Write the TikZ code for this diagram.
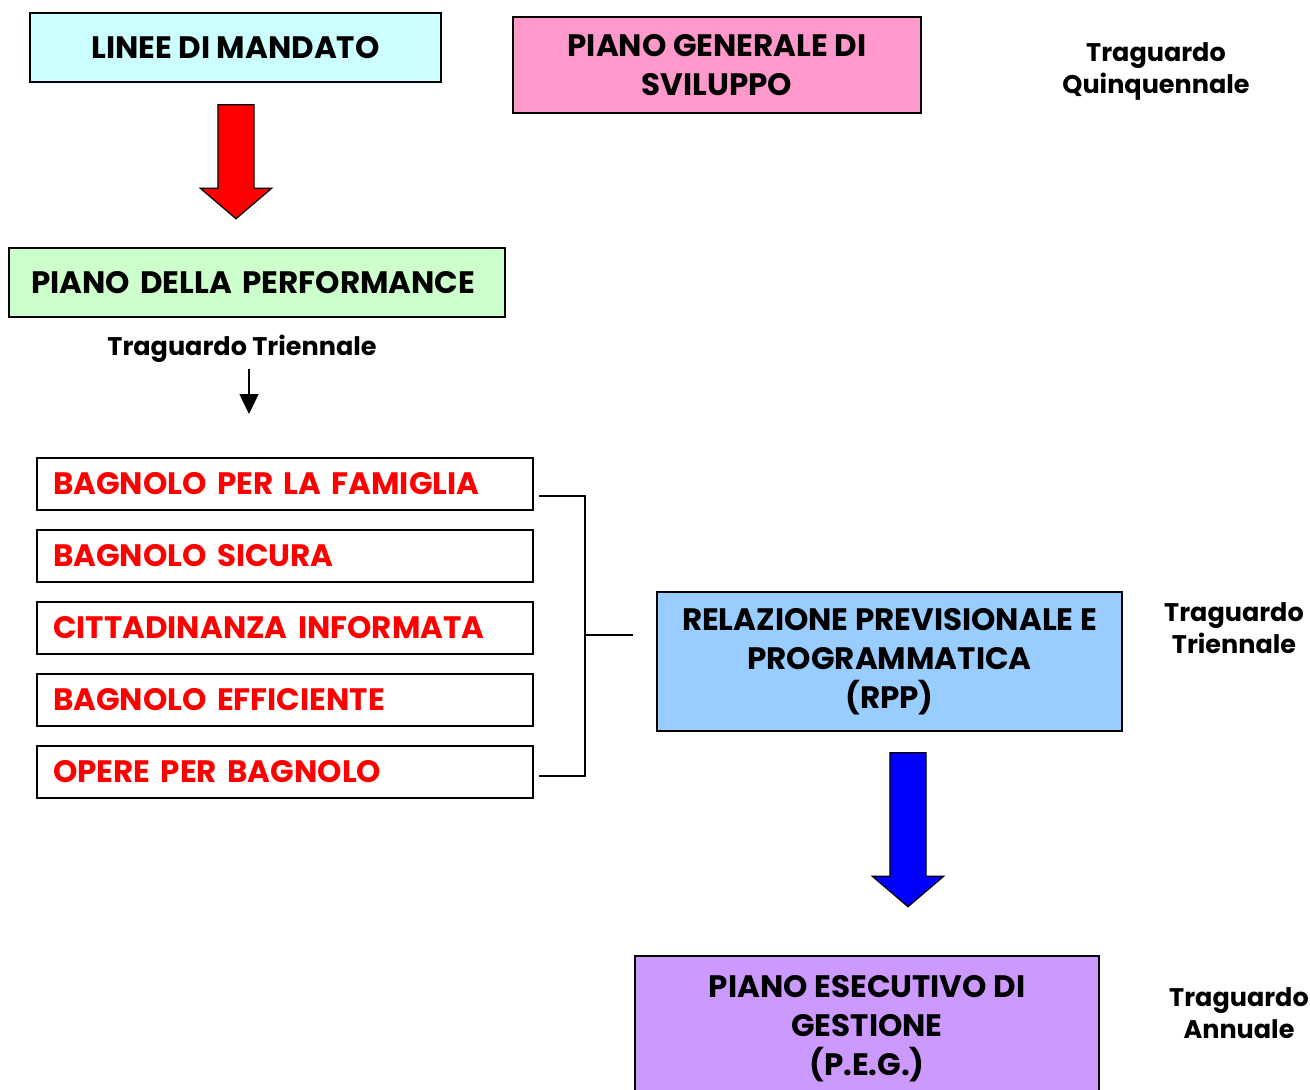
\documentclass[tikz,border=0pt]{standalone}
\usepackage{fontspec}
\setmainfont{Poppins}
\usetikzlibrary{shapes.arrows, arrows.meta, positioning, calc}
\definecolor{mandcyan}{HTML}{CCFFFF}
\definecolor{pgspink}{HTML}{FF99CC}
\definecolor{perfgreen}{HTML}{CCFFCC}
\definecolor{rppblue}{HTML}{99CCFF}
\definecolor{pegviolet}{HTML}{CC99FF}
\definecolor{lineared}{HTML}{FF0000}
\definecolor{arrblue}{HTML}{0000FF}

\tikzset{
  planbox/.style={draw=black, line width=1.5pt, inner sep=0pt, align=center,
    font=\bfseries\fontsize{31}{39}\selectfont},
  linebox/.style={draw=black, line width=1.5pt, minimum width=496pt, minimum height=52pt,
    text width=464pt, inner xsep=16pt, inner ysep=0pt, align=left, text=lineared,
    font=\bfseries\fontsize{31}{39}\selectfont},
  goal/.style={align=center, font=\bfseries\fontsize{25.5}{32}\selectfont},
  blockarrow/.style={single arrow, draw=black, line width=1.2pt, shape border rotate=270,
    inner sep=17.5pt, single arrow head extend=17.5pt, single arrow tip angle=99},
  bracket/.style={draw=black, line width=1.5pt}
}

\begin{document}
\begin{tikzpicture}[x=1pt,y=-1pt]
  \useasboundingbox (0,0) rectangle (1310,1090);

  % Top row
  \node[planbox, fill=mandcyan, minimum width=411pt, minimum height=69pt] (mandato) at (235.5,47.5) {LINEE DI MANDATO};
  \node[planbox, fill=pgspink, minimum width=408pt, minimum height=96pt] (pgs) at (717,65) {PIANO GENERALE DI\\SVILUPPO};
  \node[goal] (quinq) at (1156,71) {Traguardo\\Quinquennale};

  % Performance
  \node[blockarrow, fill=lineared, minimum height=114pt] (redarrow) at (236,154) {};
  \node[planbox, fill=perfgreen, minimum width=496pt, minimum height=69pt, text width=452pt, inner xsep=22pt, align=left] (perf) at (257,282.5) {PIANO DELLA PERFORMANCE};
  \node[goal] (trperf) at (242,349) {Traguardo Triennale};
  \coordinate (famtop) at (249,414);
  \draw[line width=1.5pt, -{Triangle[width=19pt,length=20pt]}] (trperf.south -| famtop) ++(0,3) -- (famtop);

  % Lines of mandate
  \node[linebox] (fam) at (285,484) {BAGNOLO PER LA FAMIGLIA};
  \node[linebox] (sicura) at (285,556) {BAGNOLO SICURA};
  \node[linebox] (info) at (285,628) {CITTADINANZA INFORMATA};
  \node[linebox] (effic) at (285,700) {BAGNOLO EFFICIENTE};
  \node[linebox] (opere) at (285,772) {OPERE PER BAGNOLO};

  % RPP
  \node[planbox, fill=rppblue, minimum width=465pt, minimum height=139pt] (rpp) at (889.5,661.5) {RELAZIONE PREVISIONALE E\\PROGRAMMATICA\\(RPP)};
  \node[goal] (trrpp) at (1234,628) {Traguardo\\Triennale};

  % Bracket
  \coordinate (brk) at (585,635);
  \draw[bracket] ([xshift=5pt,yshift=-12pt]fam.east) -| (brk) |- ([xshift=5pt,yshift=-4pt]opere.east);
  \draw[bracket, shorten >=23pt] (brk) -- (rpp.west |- brk);

  % PEG
  \node[blockarrow, fill=arrblue, minimum height=154pt] (bluearrow) at (908,822) {};
  \node[planbox, fill=pegviolet, minimum width=464pt, minimum height=145pt] (peg) at (867,1028.5) {PIANO ESECUTIVO DI\\GESTIONE\\(P.E.G.)};
  \node[goal] (tranno) at (1239,1013) {Traguardo\\Annuale};
\end{tikzpicture}
\end{document}
